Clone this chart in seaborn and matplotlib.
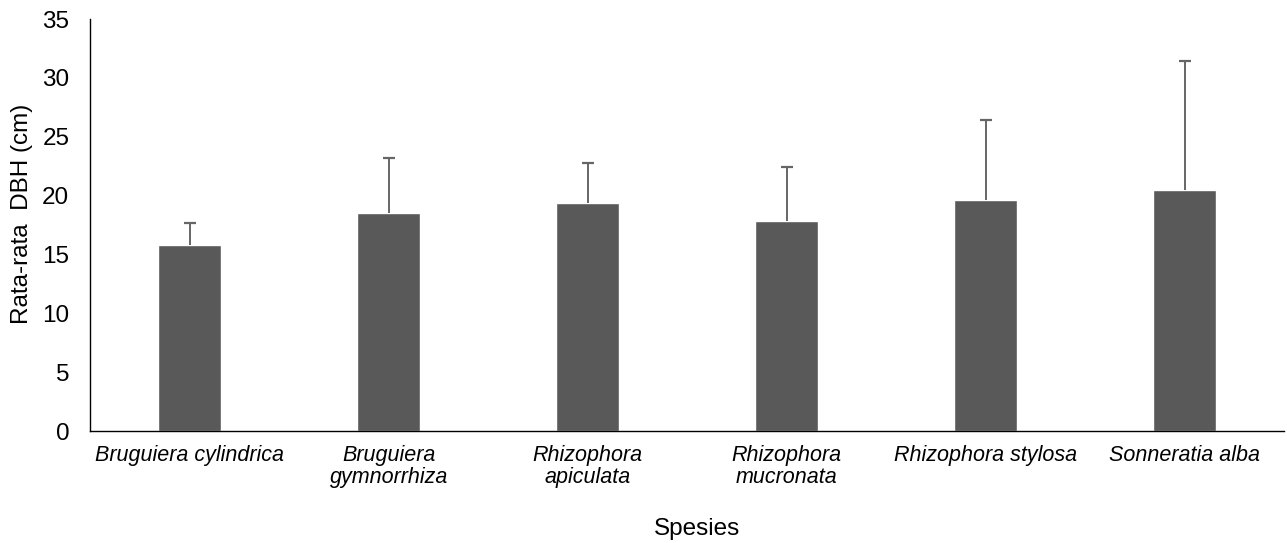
import numpy as np
import pandas as pd
import matplotlib
matplotlib.use("Agg")
import matplotlib.pyplot as plt
import seaborn as sns

# Species and mean DBH values
species = [
    "Bruguiera cylindrica",
    "Bruguiera\ngymnorrhiza",
    "Rhizophora\napiculata",
    "Rhizophora\nmucronata",
    "Rhizophora stylosa",
    "Sonneratia alba",
]
mean_dbh = [15.85, 18.5, 19.4, 17.85, 19.6, 20.5]
sd_dbh = [1.8, 4.7, 3.4, 4.6, 6.85, 10.95]

sns.set_theme(style="white")
plt.rcParams['font.family'] = ['Liberation Sans', 'DejaVu Sans']

df = pd.DataFrame({"Spesies": species, "DBH": mean_dbh, "SD": sd_dbh})

fig = plt.figure(figsize=(12.87, 5.43), dpi=100)
ax = fig.add_axes([0.070, 0.206, 0.928, 0.759])

sns.barplot(data=df, x="Spesies", y="DBH", color="#595959", saturation=1,
            width=0.316, errorbar=None, ax=ax)

# one-sided (upper) error bars
xpos = np.arange(len(species))
eb = ax.errorbar(xpos, df["DBH"], yerr=[np.zeros(len(species)), df["SD"]],
                 fmt="none", ecolor="#666666", elinewidth=1.4, capsize=4.6,
                 capthick=1.6)
eb[1][0].set_visible(False)  # hide the cap sitting on the bar top

ax.set_ylim(0, 35)
ax.set_yticks(np.arange(0, 36, 5))
ax.set_xlim(-0.5, len(species) - 0.5)

for side in ["top", "right"]:
    ax.spines[side].set_visible(False)
for side in ["left", "bottom"]:
    ax.spines[side].set_color("black")
    ax.spines[side].set_linewidth(1.0)

ax.tick_params(axis="y", length=0, pad=15, labelsize=17.5, colors="black")
ax.tick_params(axis="x", length=0, pad=10, labelsize=15.5, colors="black")
for lbl in ax.get_xticklabels():
    lbl.set_fontstyle("italic")
    lbl.set_linespacing(1.05)

ax.set_xlabel("Spesies", fontsize=17.5, color="black")
ax.xaxis.set_label_coords(0.508, -0.21)
ax.set_ylabel("Rata-rata  DBH (cm)", fontsize=17.5, color="black")
ax.yaxis.set_label_coords(-0.048, 0.527)

fig.savefig("out.png", dpi=100)
